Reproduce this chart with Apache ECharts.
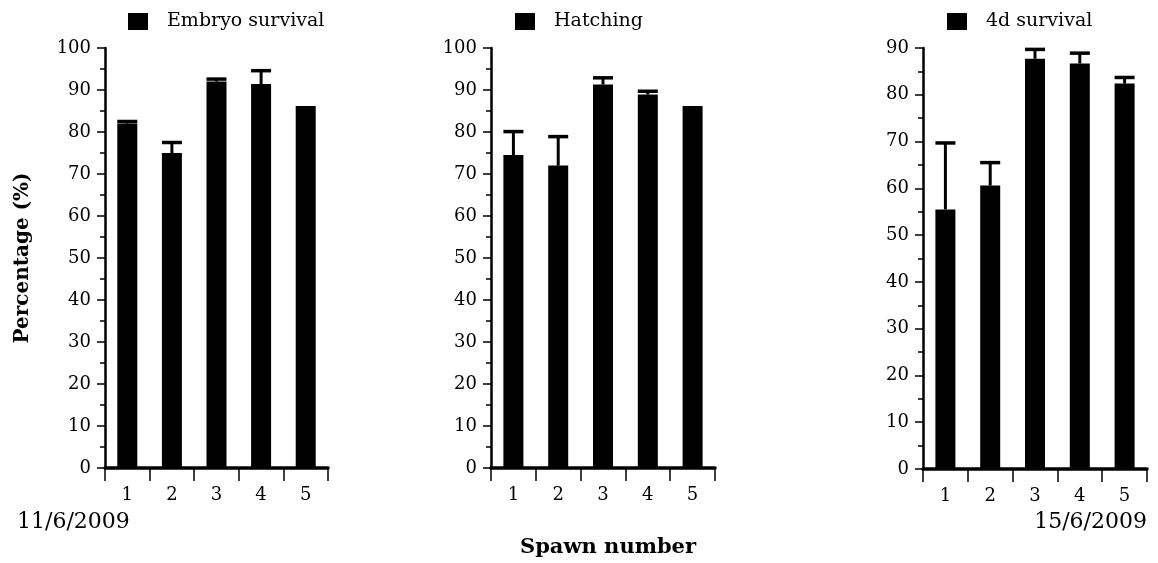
<!DOCTYPE html>
<html><head><meta charset="utf-8">
<script src="https://cdn.jsdelivr.net/npm/echarts@6/dist/echarts.min.js"></script>
<style>html,body{margin:0;padding:0;background:#fff}#c{width:1158px;height:563px}</style>
</head><body><div id="c"></div>
<script>
const categories = ['1', '2', '3', '4', '5'];
const embryoMean = [82.0, 75.0, 92.0, 91.4, 86.2];
const embryoErr  = [0.5, 2.5, 0.6, 3.2, 0.0];
const hatchMean  = [74.5, 72.0, 91.3, 88.9, 86.2];
const hatchErr   = [5.6, 6.9, 1.6, 0.8, 0.0];
const surv4dMean = [55.5, 60.6, 87.7, 86.7, 82.4];
const surv4dErr  = [14.2, 4.9, 2.0, 2.2, 1.3];
const seriesNames = ['Embryo survival', 'Hatching', '4d survival'];
const yMaxes = [100, 100, 90];

const FONT = 'DejaVu Serif';
const chart = echarts.init(document.getElementById('c'), null, {renderer: 'canvas'});

const grids = [
  {left: 105, top: 48, width: 223, height: 420},
  {left: 491, top: 48, width: 224, height: 420},
  {left: 923, top: 48, width: 224, height: 421}
];
const legendLefts = [128, 515, 947];
const means = [embryoMean, hatchMean, surv4dMean];
const errs = [embryoErr, hatchErr, surv4dErr];

const xAxes = grids.map((g, i) => ({
  type: 'category', gridIndex: i, data: categories,
  axisLine: {show: true, lineStyle: {color: '#000', width: 3.5}},
  axisTick: {show: true, length: 13, lineStyle: {color: '#000', width: 1.5}},
  axisLabel: {color: '#000', fontFamily: FONT, fontSize: 18, margin: 18},
  splitLine: {show: false}
}));
const yAxes = grids.map((g, i) => ({
  type: 'value', gridIndex: i, min: 0, max: yMaxes[i], interval: 10,
  axisLine: {show: true, lineStyle: {color: '#000', width: 2.5}},
  axisTick: {show: true, length: 8, lineStyle: {color: '#000', width: 1.5}},
  minorTick: {show: true, splitNumber: 2, length: 5, lineStyle: {color: '#000', width: 1.5}},
  axisLabel: {color: '#000', fontFamily: FONT, fontSize: 18, margin: 14},
  splitLine: {show: false}, minorSplitLine: {show: false}
}));

function errSeries(i) {
  return {
    type: 'custom', xAxisIndex: i, yAxisIndex: i, z: 3, silent: true,
    data: means[i].map((m, k) => [k, m, m + errs[i][k]]),
    encode: {x: 0, y: 2},
    renderItem: function (params, api) {
      const k = api.value(0);
      const lo = api.value(1), hi = api.value(2);
      if (hi - lo < 0.05) return;
      const top = api.coord([k, hi]);
      const base = api.coord([k, lo]);
      const half = 10;
      return {type: 'group', children: [
        {type: 'line', shape: {x1: top[0], y1: base[1], x2: top[0], y2: top[1]}, style: {stroke: '#000', lineWidth: 3}},
        {type: 'line', shape: {x1: top[0] - half, y1: top[1], x2: top[0] + half, y2: top[1]}, style: {stroke: '#000', lineWidth: 3.5}}
      ]};
    }
  };
}

const series = [];
for (let i = 0; i < 3; i++) {
  series.push({
    name: seriesNames[i], type: 'bar', xAxisIndex: i, yAxisIndex: i,
    data: means[i], barWidth: 20, itemStyle: {color: '#000'}, silent: true
  });
  series.push(errSeries(i));
}

const legends = seriesNames.map((n, i) => ({
  data: [n], left: legendLefts[i], top: 12, padding: 0,
  icon: 'rect', itemWidth: 20, itemHeight: 17, selectedMode: false,
  textStyle: {color: '#000', fontFamily: FONT, fontSize: 19, padding: [0, 0, 0, 14]}
}));

chart.setOption({
  animation: false,
  backgroundColor: '#fff',
  grid: grids,
  xAxis: xAxes,
  yAxis: yAxes,
  legend: legends,
  series: series,
  graphic: [
    {type: 'text', x: 23, y: 258, rotation: Math.PI / 2,
     style: {text: 'Percentage (%)', fontFamily: FONT, fontWeight: 'bold', fontSize: 20, fill: '#000', align: 'center', verticalAlign: 'middle'}},
    {type: 'text', x: 608, y: 548,
     style: {text: 'Spawn number', fontFamily: FONT, fontWeight: 'bold', fontSize: 21, fill: '#000', align: 'center', verticalAlign: 'middle'}},
    {type: 'text', x: 17, y: 522,
     style: {text: '11/6/2009', fontFamily: FONT, fontSize: 22, fill: '#000', align: 'left', verticalAlign: 'middle'}},
    {type: 'text', x: 1147, y: 522,
     style: {text: '15/6/2009', fontFamily: FONT, fontSize: 22, fill: '#000', align: 'right', verticalAlign: 'middle'}}
  ]
});
</script></body></html>
